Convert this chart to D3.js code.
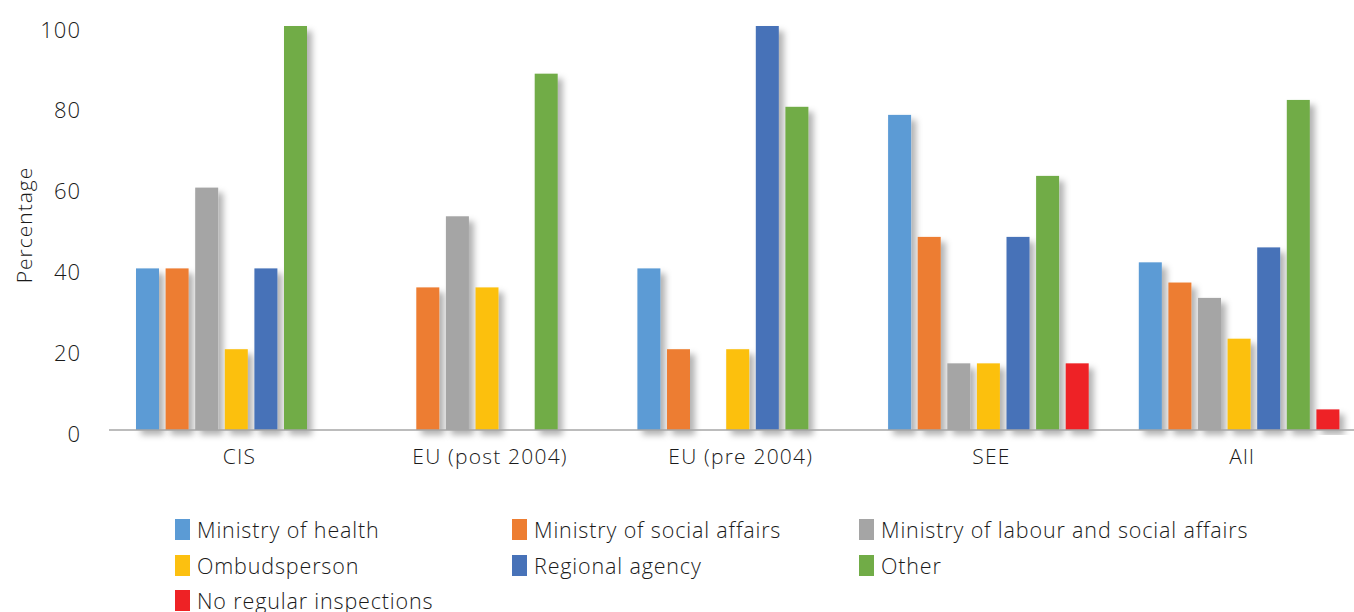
<!DOCTYPE html>
<html>
<head>
<meta charset="utf-8">
<script src="https://cdn.jsdelivr.net/npm/d3@7/dist/d3.min.js"></script>
<style>
  html, body { margin: 0; padding: 0; background: #fff; }
  svg { display: block; }
  text { font-family: "Open Sans", sans-serif; fill: #1a1a1a; font-weight: 300; }
</style>
</head>
<body>
<svg id="chart" width="1354" height="612"></svg>
<script>
const categories = ["CIS", "EU (post 2004)", "EU (pre 2004)", "SEE", "All"];
const seriesNames = ["Ministry of health", "Ministry of social affairs", "Ministry of labour and social affairs", "Ombudsperson", "Regional agency", "Other", "No regular inspections"];
const seriesColors = ["#5B9BD5", "#ED7D31", "#A5A5A5", "#FCC010", "#4772B8", "#71AC47", "#EE2225"];
const ministryOfHealth        = [40, 0, 40, 78, 41.5];
const ministrySocialAffairs   = [40, 35.3, 20, 47.8, 36.5];
const ministryLabourSocial    = [60, 52.9, 0, 16.5, 32.7];
const ombudsperson            = [20, 35.3, 20, 16.5, 22.6];
const regionalAgency          = [40, 0, 100, 47.8, 45.2];
const other                   = [100, 88.2, 80, 62.9, 81.7];
const noRegularInspections    = [0, 0, 0, 16.5, 5.1];
const yTicks = [0, 20, 40, 60, 80, 100];

const seriesValues = [ministryOfHealth, ministrySocialAffairs, ministryLabourSocial, ombudsperson, regionalAgency, other, noRegularInspections];

const svg = d3.select("#chart");

const defs = svg.append("defs");
const f = defs.append("filter").attr("id", "shadow").attr("x", "-30%").attr("y", "-10%").attr("width", "180%").attr("height", "130%");
f.append("feDropShadow").attr("dx", 5).attr("dy", 5).attr("stdDeviation", 3).attr("flood-color", "#000").attr("flood-opacity", 0.3);

const x0 = d3.scaleBand().domain(categories).range([114, 1367.5]).padding(0);
const x1 = d3.scaleBand().domain(seriesNames).range([22, 222.6]).paddingInner(0.223).paddingOuter(0);
const y = d3.scaleLinear().domain([0, 100]).range([430, 26]);

// bars
const groups = svg.append("g").selectAll("g").data(categories).join("g")
  .attr("transform", d => `translate(${x0(d)},0)`);

groups.each(function(cat, ci) {
  const data = seriesNames.map((s, si) => ({ s, si, v: seriesValues[si][ci] })).filter(d => d.v > 0);
  d3.select(this).selectAll("rect").data(data).join("rect")
    .attr("x", d => x1(d.s))
    .attr("width", x1.bandwidth())
    .attr("y", d => y(d.v))
    .attr("height", d => y(0) - y(d.v))
    .attr("fill", d => seriesColors[d.si])
    .attr("filter", "url(#shadow)");
});

// baseline
svg.append("line").attr("x1", 109).attr("x2", 1354).attr("y1", y(0)).attr("y2", y(0))
  .attr("stroke", "#A6A6A6").attr("stroke-width", 1.5);

// y axis ticks
const yAxis = d3.axisLeft(y).tickValues(yTicks).tickSize(0).tickPadding(0);
const yg = svg.append("g").attr("transform", "translate(81,4)").call(yAxis);
yg.select(".domain").remove();
yg.selectAll("text").style("font-size", "22px").style("letter-spacing", "1px").attr("fill", "#1a1a1a")
  .style("font-family", '"Open Sans", sans-serif').style("font-weight", 300);

// x axis labels
const xAxis = d3.axisBottom(x0).tickSize(0).tickPadding(0);
const xg = svg.append("g").attr("transform", "translate(0,449)").call(xAxis);
xg.select(".domain").remove();
xg.selectAll("text").style("font-size", "21px").style("letter-spacing", "1.2px").attr("fill", "#1a1a1a")
  .style("font-family", '"Open Sans", sans-serif').style("font-weight", 300);

// y axis title
svg.append("text").attr("transform", "translate(32,225) rotate(-90)")
  .attr("text-anchor", "middle").style("font-size", "21px").style("letter-spacing", "1px").text("Percentage");

// legend
const legCols = [175, 512, 859];
const legRows = [530, 566, 601];
const leg = svg.append("g").selectAll("g").data(seriesNames).join("g")
  .attr("transform", (d, i) => `translate(${legCols[i % 3]},${legRows[Math.floor(i / 3)]})`);
leg.append("rect").attr("x", 0).attr("y", -11).attr("width", 15).attr("height", 21)
  .attr("fill", (d, i) => seriesColors[i]);
leg.append("text").attr("x", 22).attr("y", 8).style("font-size", "21.5px").style("letter-spacing", "0.85px").text(d => d);
</script>
</body>
</html>
